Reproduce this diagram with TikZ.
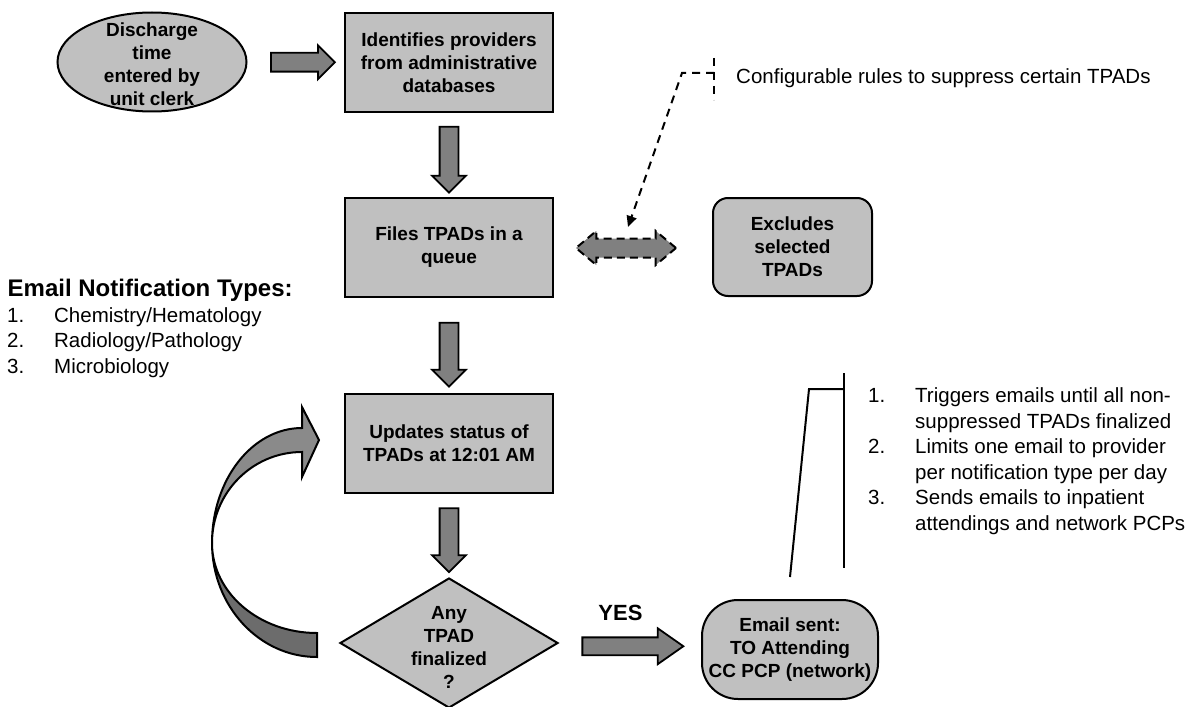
\documentclass[tikz,border=0pt]{standalone}
\usepackage{fontspec}
\setsansfont{Liberation Sans}
\usepackage{tikz}
\usetikzlibrary{shapes, shapes.geometric, shapes.arrows, arrows.meta, positioning, calc}
\definecolor{cBoxFill}{RGB}{192, 192, 192}
\definecolor{cArrowFill}{RGB}{128, 128, 128}
\definecolor{cLoopFront}{RGB}{138, 138, 138}
\definecolor{cLoopBack}{RGB}{108, 108, 108}
\tikzset{
    font=\sffamily,
    stepBox/.style={
        rectangle, draw, line width=2pt, fill=cBoxFill,
        minimum width=208pt, minimum height=99pt,
        align=center, inner sep=0pt,
        font=\sffamily\bfseries\fontsize{19}{23}\selectfont
    },
    roundBox/.style={stepBox, rounded corners=15pt, minimum width=159pt, minimum height=98pt},
    sentBox/.style={stepBox, rounded corners=36pt, minimum width=176pt, minimum height=99pt},
    startOval/.style={
        ellipse, draw, line width=2pt, fill=cBoxFill,
        minimum width=189pt, minimum height=99pt, inner sep=0pt
    },
    decisionBox/.style={
        diamond, draw, line width=2pt, fill=cBoxFill,
        minimum width=218pt, minimum height=130pt, inner sep=0pt
    },
    boxText/.style={
        align=center, inner sep=0pt,
        font=\sffamily\bfseries\fontsize{19}{23}\selectfont
    },
    blockArrow/.style={
        single arrow, draw, line width=1.8pt, fill=cArrowFill,
        inner xsep=0pt, inner ysep=8.5pt,
        single arrow head extend=7.5pt, single arrow tip angle=90,
        minimum height=64pt
    },
    doubleArrow/.style={
        double arrow, draw, dash pattern=on 8pt off 5pt, line width=2pt, fill=cArrowFill,
        inner xsep=0pt, inner ysep=8.5pt,
        double arrow head extend=7.5pt, double arrow tip angle=80,
        minimum height=100pt
    },
    noteText/.style={
        inner sep=0pt, align=left,
        font=\sffamily\fontsize{20.5}{25.5}\selectfont
    },
    calloutLine/.style={line width=2pt}
}
\newcommand{\itemWidth}{47pt}
\newcommand{\itemNo}[1]{\makebox[\itemWidth][l]{#1}}
\newcommand{\itemGap}{\hspace*{\itemWidth}}

\begin{document}
\begin{tikzpicture}[x=1pt, y=-1pt]
	\useasboundingbox (0,0) rectangle (1190,706);

	% main flow
	\node [startOval, label={[boxText, yshift=-2pt]center:Discharge\\time\\entered by\\unit clerk}] (discharge) at (152,62) {};
	\node [stepBox] (identBox) at (449,62.5) {Identifies providers\\from administrative\\databases};
	\node [stepBox] (filesBox) at (449,247.5) {Files TPADs in a\\queue};
	\node [stepBox] (updateBox) at (449,443.5) {Updates status of\\TPADs at 12:01 AM};
	\node [decisionBox, label={[boxText, yshift=-4pt]center:Any\\TPAD\\finalized\\?}] (anyFinal) at (449,643) {};
	\node [roundBox] (excludeBox) at (792.5,247) {Excludes\\selected\\TPADs};
	\node [sentBox] (emailBox) at (790,649.5) {Email sent:\\TO Attending\\CC PCP (network)};

	\node [blockArrow] (toIdent) at ($(discharge.east)!0.5!(identBox.west)+(2.5,0)$) {};
	\node [blockArrow, rotate=-90, minimum height=66pt] (toFiles) at ($(identBox.south)!0.5!(filesBox.north)$) {};
	\node [blockArrow, rotate=-90] (toUpdate) at ($(filesBox.south)!0.5!(updateBox.north)+(0,4.5)$) {};
	\node [blockArrow, rotate=-90] (toDecide) at ($(updateBox.south)!0.5!(anyFinal.north)$) {};
	\node [blockArrow, minimum height=101pt, inner ysep=8pt, single arrow head extend=9pt, single arrow tip angle=70] (yesArrow) at ($(anyFinal.east)!0.5!(emailBox.west)+(-3.5,0)$) {};
	\node [inner sep=0pt, font=\sffamily\bfseries\fontsize{22}{26}\selectfont] (yesLabel) at ([xshift=-6pt, yshift=33pt]yesArrow.center) {YES};
	\node [doubleArrow] (excludeArrow) at (626,248) {};

	% loop back to the update step
	\begin{scope}[shift={(anyFinal.west)}]
		\filldraw [fill=cLoopBack, line width=2pt] (-127,-100) .. controls (-127,-37) and (-80,14) .. (-22,14) -- (-22,-10) .. controls (-80,-10) and (-127,-50.3) .. (-127,-100) -- cycle;
		\filldraw [fill=cLoopFront, line width=2pt] (-127,-100) .. controls (-127,-163.5) and (-86.7,-215) .. (-37,-215) -- (-37,-236) -- (-20,-203) -- (-37,-166) -- (-37,-191) .. controls (-86.7,-191) and (-127,-150.3) .. (-127,-100) -- cycle;
	\end{scope}

	% callouts
	\node [noteText, anchor=west] (rulesNote) at (736,78) {Configurable rules to suppress certain TPADs};
	\coordinate (rulesBarTop) at (714,58);
	\coordinate (rulesBarBot) at (714,100);
	\coordinate (rulesBend) at (682,73);
	\draw [calloutLine, dash pattern=on 8pt off 6pt] (rulesBarTop) -- (rulesBarBot);
	\draw [calloutLine, dash pattern=on 8pt off 6pt, -{Triangle[length=11pt, width=10pt]}] (rulesBarTop |- rulesBend) -- (rulesBend) -- ([xshift=2pt, yshift=21pt]excludeArrow.center);

	\node [noteText, anchor=north west] (sendNote) at (868,387.5) {
		\itemNo{1.}Triggers emails until all non-\\
		\itemGap suppressed TPADs finalized\\
		\itemNo{2.}Limits one email to provider\\
		\itemGap per notification type per day\\
		\itemNo{3.}Sends emails to inpatient\\
		\itemGap attendings and network PCPs
	};
	\coordinate (sendBarTop) at (844,373);
	\coordinate (sendBarBot) at (844,568);
	\coordinate (sendBend) at (809,389);
	\draw [calloutLine] (sendBarTop) -- (sendBarBot);
	\draw [calloutLine] (sendBarTop |- sendBend) -- (sendBend) -- ([yshift=22pt]emailBox.north);

	% notification types
	\node [anchor=north west, inner sep=0pt, font=\sffamily\bfseries\fontsize{24}{28}\selectfont] (typeHead) at (7.5,279) {Email Notification Types:};
	\node [noteText, anchor=north west] (typeList) at (7,307) {
		\itemNo{1.}Chemistry/Hematology\\
		\itemNo{2.}Radiology/Pathology\\
		\itemNo{3.}Microbiology
	};
\end{tikzpicture}
\end{document}
